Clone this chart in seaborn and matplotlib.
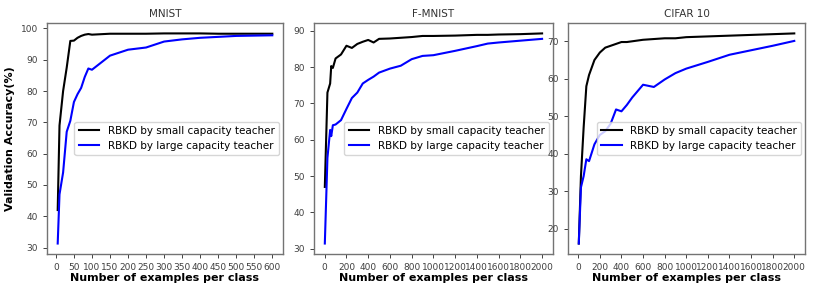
import pandas as pd
import matplotlib
matplotlib.use("Agg")
import matplotlib.pyplot as plt
import seaborn as sns

# MNIST
mnist_x = [5, 10, 20, 30, 40, 50, 60, 70, 80, 90, 100, 150, 200, 250, 300,
           350, 400, 450, 500, 550, 600]
mnist_small = [42, 69, 80, 87.5, 96, 96.1, 97, 97.6, 98, 98.2, 98, 98.3, 98.3,
               98.3, 98.4, 98.4, 98.4, 98.3, 98.3, 98.3, 98.3]
mnist_large = [31.3, 47, 54, 67, 70.5, 76.5, 79, 81, 84.5, 87.2, 86.8, 91.3,
               93.2, 93.9, 95.8, 96.5, 97, 97.3, 97.6, 97.7, 97.8]

# F-MNIST
fmnist_x = [1, 25, 50, 60, 75, 100, 150, 200, 250, 300, 350, 400, 450, 500,
            600, 700, 800, 900, 1000, 1200, 1400, 1500, 1600, 1800, 2000]
fmnist_small = [47, 73, 75.5, 80.3, 79.8, 82.4, 83.5, 85.9, 85.3, 86.4, 87,
                87.5, 86.8, 87.8, 87.9, 88.1, 88.3, 88.6, 88.6, 88.7, 88.9,
                88.9, 89, 89.1, 89.3]
fmnist_large = [31.4, 55, 62.7, 61, 64, 64.2, 65.4, 68.5, 71.5, 73, 75.5,
                76.5, 77.4, 78.5, 79.6, 80.4, 82.2, 83.1, 83.3, 84.5, 85.8,
                86.5, 86.8, 87.3, 87.8]

# CIFAR 10
cifar_x = [5, 25, 50, 75, 100, 150, 200, 250, 300, 350, 400, 450, 500, 600,
           700, 800, 900, 1000, 1200, 1400, 1600, 1800, 2000]
cifar_small = [16, 34, 47, 58, 61, 65, 67, 68.3, 68.8, 69.3, 69.8, 69.8, 70,
               70.4, 70.6, 70.8, 70.8, 71.1, 71.3, 71.5, 71.7, 71.9, 72.1]
cifar_large = [16, 31, 34, 38.5, 38, 42.5, 45, 46, 48, 51.8, 51.3, 53, 55,
               58.4, 57.8, 59.8, 61.5, 62.7, 64.5, 66.4, 67.6, 68.8, 70.1]

label_small = "RBKD by small capacity teacher"
label_large = "RBKD by large capacity teacher"

panels = [
    ("MNIST", mnist_x, mnist_small, mnist_large, range(0, 601, 50), range(30, 101, 10)),
    ("F-MNIST", fmnist_x, fmnist_small, fmnist_large, range(0, 2001, 200), range(30, 91, 10)),
    ("CIFAR 10", cifar_x, cifar_small, cifar_large, range(0, 2001, 200), range(20, 71, 10)),
]

fig = plt.figure(figsize=(8.14, 2.9), dpi=100)
lefts = [0.0577, 0.3857, 0.6978]
widths = [0.290, 0.2936, 0.2912]

for i, (title, x, small, large, xt, yt) in enumerate(panels):
    ax = fig.add_axes([lefts[i], 0.124, widths[i], 0.797])
    df = pd.DataFrame({
        "x": list(x) + list(x),
        "acc": list(small) + list(large),
        "teacher": [label_small] * len(x) + [label_large] * len(x),
    })
    sns.lineplot(data=df, x="x", y="acc", hue="teacher",
                 palette={label_small: "black", label_large: "blue"},
                 linewidth=1.5, ax=ax)
    ax.set_title(title, fontsize=7.5, color="0.2", pad=4)
    ax.set_xticks(list(xt))
    ax.set_yticks(list(yt))
    ax.tick_params(labelsize=6.5, colors="0.25", length=3, width=0.7)
    for s in ax.spines.values():
        s.set_color("0.45")
        s.set_linewidth(1.0)
    ax.set_xlabel("Number of examples per class", fontsize=8, fontweight="bold", labelpad=1)
    if i == 0:
        ax.set_ylabel("Validation Accuracy(%)", fontsize=8, fontweight="bold")
    else:
        ax.set_ylabel("")
    ax.legend(loc="center right", fontsize=7.5, frameon=True, handlelength=2,
              borderaxespad=0.4)

plt.savefig("out.png", dpi=100)
plt.close()
